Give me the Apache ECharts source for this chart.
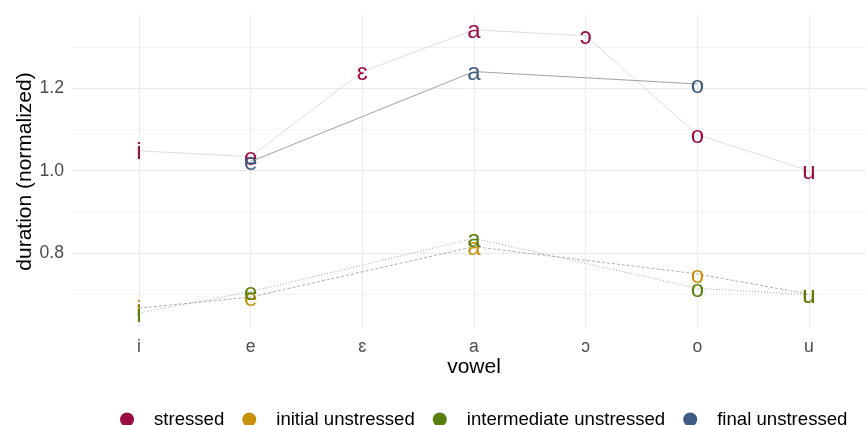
<!DOCTYPE html>
<html>
<head>
<meta charset="utf-8">
<script src="https://cdn.jsdelivr.net/npm/echarts@6/dist/echarts.min.js"></script>
<style>
  html, body { margin: 0; padding: 0; background: #ffffff; }
  #chart { width: 866px; height: 425px; }
</style>
</head>
<body>
<div id="chart"></div>
<script>
// Vowel categories along the x axis
const vowels = ['i', 'e', 'ɛ', 'a', 'ɔ', 'o', 'u'];

// Normalized durations per vowel (null = vowel not measured in that position)
const stressed               = [1.048, 1.034, 1.240, 1.341, 1.327, 1.087, 1.000];
const initialUnstressed      = [0.667, 0.694, null, 0.816, null, 0.750, 0.701];
const intermediateUnstressed = [0.655, 0.707, null, 0.836, null, 0.715, 0.700];
const finalUnstressed        = [null, 1.022, null, 1.240, null, 1.210, null];

// Group names as shown in the legend
const groupNames = ['stressed', 'initial unstressed', 'intermediate unstressed', 'final unstressed'];

// Y axis tick values
const yMajorTicks = [0.8, 1.0, 1.2];
const yMinorTicks = [0.7, 0.9, 1.1, 1.3];

const FONT = '"Liberation Sans", Arial, Helvetica, sans-serif';

const groups = [
  { name: groupNames[0], values: stressed,               color: '#9b0d41', line: { color: '#d4d4d4', type: 'solid', width: 0.8 } },
  { name: groupNames[1], values: initialUnstressed,      color: '#c8900c', line: { color: '#9a9a9a', type: [3, 2], width: 0.8 } },
  { name: groupNames[2], values: intermediateUnstressed, color: '#587e0e', line: { color: '#9a9a9a', type: [1, 2], width: 0.9 } },
  { name: groupNames[3], values: finalUnstressed,        color: '#3d5b82', line: { color: '#8a8a8a', type: 'solid', width: 0.8 } }
];

function toPoints(values) {
  const pts = [];
  values.forEach((v, i) => { if (v != null) pts.push([i, v, vowels[i]]); });
  return pts;
}

const series = [];
// connecting lines, drawn underneath the vowel labels
groups.forEach(g => {
  series.push({
    name: g.name + ' path',
    type: 'line',
    data: toPoints(g.values),
    symbol: 'none',
    silent: true,
    z: 1,
    lineStyle: g.line
  });
});
// vowel glyphs placed at each value
groups.forEach((g, k) => {
  series.push({
    name: g.name,
    type: 'scatter',
    data: toPoints(g.values),
    symbolSize: 0,
    itemStyle: { color: g.color, opacity: 1 },
    z: 2 + k,
    silent: true,
    label: {
      show: true,
      position: 'inside',
      formatter: p => p.data[2],
      color: g.color,
      fontSize: 24,
      fontFamily: FONT,
      offset: [0, 2]
    }
  });
});

const chart = echarts.init(document.getElementById('chart'), null, { renderer: 'canvas' });
chart.setOption({
  animation: false,
  backgroundColor: '#ffffff',
  grid: { left: 72, top: 15, width: 804, height: 313, containLabel: false, outerBoundsMode: 'none' },
  xAxis: {
    type: 'value',
    min: -0.6,
    max: 6.6,
    name: 'vowel',
    nameLocation: 'middle',
    nameGap: 29,
    nameMoveOverlap: false,
    nameTextStyle: { color: '#000000', fontSize: 21, fontFamily: FONT },
    axisLine: { show: false },
    axisTick: { show: false, customValues: vowels.map((v, i) => i) },
    axisLabel: {
      customValues: vowels.map((v, i) => i),
      formatter: v => vowels[Math.round(v)],
      color: '#4d4d4d',
      fontSize: 17.6,
      fontFamily: FONT,
      margin: 10
    },
    splitLine: { show: true, lineStyle: { color: '#ebebeb', width: 1 } }
  },
  yAxis: [
    {
      type: 'value',
      min: 0.619,
      max: 1.377,
      name: 'duration (normalized)',
      nameLocation: 'middle',
      nameGap: 36,
      nameMoveOverlap: false,
      nameTextStyle: { color: '#000000', fontSize: 21, fontFamily: FONT },
      axisLine: { show: false },
      axisTick: { show: false, customValues: yMajorTicks },
      axisLabel: {
        customValues: yMajorTicks,
        formatter: v => v.toFixed(1),
        color: '#4d4d4d',
        fontSize: 17.6,
        fontFamily: FONT,
        margin: 8
      },
      splitLine: { show: true, lineStyle: { color: '#ebebeb', width: 1 } }
    },
    {
      type: 'value',
      min: 0.619,
      max: 1.377,
      position: 'left',
      axisLine: { show: false },
      axisTick: { show: false, customValues: yMinorTicks },
      axisLabel: { show: false, customValues: yMinorTicks },
      splitLine: { show: true, lineStyle: { color: '#f3f3f3', width: 1 } }
    }
  ],
  legend: {
    data: groupNames,
    left: 120,
    top: 410,
    padding: 0,
    orient: 'horizontal',
    icon: 'circle',
    itemWidth: 14,
    itemHeight: 14,
    itemGap: 18,
    selectedMode: false,
    textStyle: { color: '#000000', fontSize: 18.6, fontFamily: FONT, padding: [0, 0, 0, 15] }
  },
  series: series
});
</script>
</body>
</html>
